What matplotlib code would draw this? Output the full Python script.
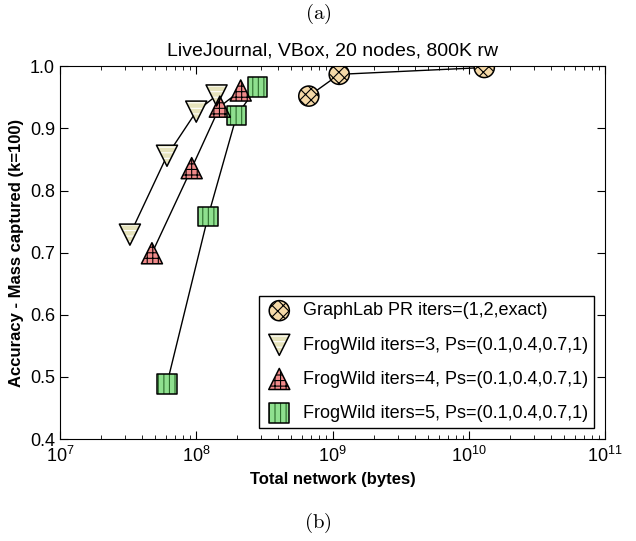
import matplotlib
matplotlib.use('Agg')
import matplotlib.pyplot as plt

plt.rcParams['font.family'] = ['Liberation Sans', 'DejaVu Sans']
plt.rcParams['mathtext.fontset'] = 'cm'
plt.rcParams['hatch.linewidth'] = 0.8

# Datos
graphlab_x = [6.7e8, 1.12e9, 1.3e10]
graphlab_y = [0.952, 0.987, 0.998]
fw3_x = [3.26e7, 6.1e7, 1.0e8, 1.41e8]
fw3_y = [0.729, 0.856, 0.927, 0.953]
fw4_x = [4.73e7, 9.26e7, 1.49e8, 2.12e8]
fw4_y = [0.699, 0.836, 0.935, 0.961]
fw5_x = [6.1e7, 1.22e8, 1.98e8, 2.81e8]
fw5_y = [0.489, 0.758, 0.921, 0.967]

labels = ['GraphLab PR iters=(1,2,exact)',
          'FrogWild iters=3, Ps=(0.1,0.4,0.7,1)',
          'FrogWild iters=4, Ps=(0.1,0.4,0.7,1)',
          'FrogWild iters=5, Ps=(0.1,0.4,0.7,1)']

fig = plt.figure(figsize=(6.36, 5.41), dpi=100)
ax = fig.add_axes([0.0943, 0.1885, 0.857, 0.689])

series = [
    (graphlab_x, graphlab_y, 'o', '#f5d9a8', 'xxx', 'k', 210),
    (fw3_x, fw3_y, 'v', '#e6e3bc', '---', 'white', 230),
    (fw4_x, fw4_y, '^', '#f08a8a', '+++', 'k', 230),
    (fw5_x, fw5_y, 's', '#8fe08f', '|||', '#2a6a2a', 200),
]

handles = []
for x, y, m, fc, hatch, hc, s in series:
    ax.plot(x, y, '-', color='k', lw=1, zorder=1)
    h1 = ax.scatter(x, y, marker=m, s=s, facecolor=fc, edgecolor=hc,
                    hatch=hatch, linewidths=0, zorder=2)
    h2 = ax.scatter(x, y, marker=m, s=s, facecolor='none', edgecolor='k',
                    linewidths=1.1, zorder=3)
    handles.append((h1, h2))

ax.set_xscale('log')
ax.set_xlim(1e7, 1e11)
ax.set_ylim(0.4, 1.0)
ax.set_yticks([0.4, 0.5, 0.6, 0.7, 0.8, 0.9, 1.0])
ax.tick_params(which='both', direction='in', top=True, right=True, labelsize=13)
ax.tick_params(which='major', length=6)
ax.tick_params(which='minor', length=3)
ax.tick_params(axis='x', pad=5)

ax.set_title('LiveJournal, VBox, 20 nodes, 800K rw', fontsize=14, pad=8)
ax.set_xlabel('Total network (bytes)', fontsize=12, fontweight='bold')
ax.set_ylabel('Accuracy - Mass captured (k=100)', fontsize=12, fontweight='bold')

ax.legend(handles, labels, loc='lower right', fontsize=13, scatterpoints=1,
          fancybox=False, edgecolor='k', framealpha=1,
          borderaxespad=0.6, labelspacing=0.95, handletextpad=0.5,
          handlelength=1.6, borderpad=0.35)

fig.text(0.5, 0.975, r'$\mathrm{(a)}$', ha='center', va='center', fontsize=15)
fig.text(0.5, 0.033, r'$\mathrm{(b)}$', ha='center', va='center', fontsize=15)

plt.savefig('out.png', dpi=100)
